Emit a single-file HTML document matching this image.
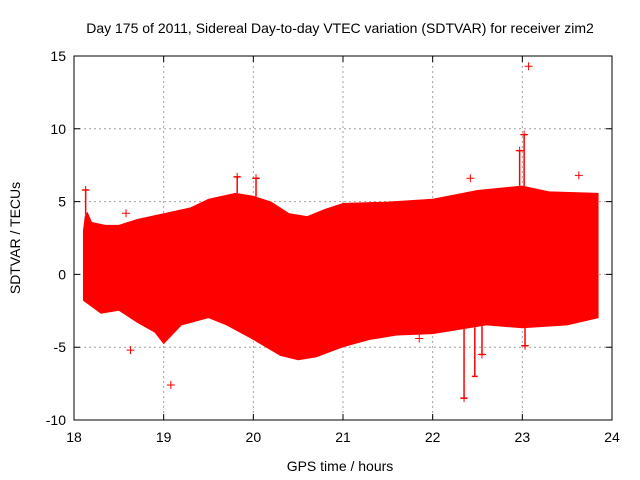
<!DOCTYPE html>
<html><head><meta charset="utf-8"><style>
body{margin:0;background:#fff;}
svg{display:block;font-family:"Liberation Sans",sans-serif;}
</style></head><body>
<svg id="chart" width="640" height="480"></svg>
<script>
const xTicks=[18,19,20,21,22,23,24];
const yTicks=[-10,-5,0,5,10,15];
const upperT=[18.1,18.12,18.15,18.2,18.35,18.5,18.7,19.0,19.3,19.5,19.8,20.0,20.2,20.4,20.6,20.8,21.0,21.5,22.0,22.5,23.0,23.3,23.85];
const upperV=[3.0,4.0,4.3,3.6,3.4,3.4,3.8,4.2,4.6,5.2,5.6,5.4,5.0,4.2,4.0,4.5,4.9,5.0,5.2,5.8,6.1,5.7,5.6];
const lowerT=[18.1,18.3,18.5,18.7,18.9,19.0,19.2,19.5,19.7,20.0,20.3,20.5,20.7,21.0,21.3,21.6,22.0,22.3,22.6,23.0,23.5,23.85];
const lowerV=[-1.8,-2.7,-2.5,-3.3,-4.0,-4.8,-3.5,-3.0,-3.5,-4.5,-5.6,-5.9,-5.7,-5.0,-4.5,-4.2,-4.1,-3.8,-3.5,-3.7,-3.5,-3.0];
const outT=[18.13,18.58,18.63,19.08,19.82,20.03,22.35,22.42,22.97,23.02,23.07,23.03,23.63,22.55,21.85];
const outV=[5.8,4.2,-5.2,-7.6,6.7,6.6,-8.5,6.6,8.5,9.6,14.3,-4.9,6.8,-5.5,-4.4];
const spikeT=[18.13,19.82,20.03,22.35,22.47,22.97,23.02,22.55,23.03];
const spikeV=[5.8,6.7,6.6,-8.5,-7.0,8.5,9.6,-5.5,-4.9];
const NS='http://www.w3.org/2000/svg';
const svg=document.getElementById('chart');
const X0=74,X1=612,Y0=420,Y1=56;
const sx=t=>X0+(t-18)/6*(X1-X0);
const sy=v=>Y0-(v+10)/25*(Y0-Y1);
function interp(T,V,t){for(let i=0;i<T.length-1;i++){if(t>=T[i]&&t<=T[i+1])return V[i]+(V[i+1]-V[i])*(t-T[i])/(T[i+1]-T[i]);}return V[V.length-1];}
function mk(tag,a,p){const e=document.createElementNS(NS,tag);for(const k in a)e.setAttribute(k,a[k]);(p||svg).appendChild(e);return e;}
xTicks.forEach((t,i)=>{if(i>0&&i<xTicks.length-1){const g=mk('line',{x1:sx(t),x2:sx(t),y1:Y1,y2:Y0,stroke:'#a0a0a0','stroke-dasharray':'2,3'});

}});
yTicks.forEach((v,i)=>{if(i>0&&i<yTicks.length-1){const g=mk('line',{x1:X0,x2:X1,y1:sy(v),y2:sy(v),stroke:'#a0a0a0','stroke-dasharray':'2,3'});

}});
let pts=upperT.map((t,i)=>sx(t)+','+sy(upperV[i]));
for(let i=lowerT.length-1;i>=0;i--)pts.push(sx(lowerT[i])+','+sy(lowerV[i]));
const band=mk('polygon',{points:pts.join(' '),fill:'#ff0000'});


spikeT.forEach((t,i)=>{const v=spikeV[i];const edge=v>0?interp(upperT,upperV,t):interp(lowerT,lowerV,t);
const x=sx(t);
const g=mk('path',{d:`M${x},${sy(edge)}V${sy(v)}M${x-3},${sy(v)}h6`,stroke:'#ff0000','stroke-width':1.5});

});
outT.forEach((t,i)=>{const x=sx(t),y=sy(outV[i]);
const g=mk('path',{d:`M${x-4},${y}H${x+4}M${x},${y-4}V${y+4}`,stroke:'#ff0000','stroke-width':1});

});
const fr=mk('rect',{x:X0,y:Y1,width:X1-X0,height:Y0-Y1,fill:'none',stroke:'#000'});


xTicks.forEach(t=>{mk('path',{d:`M${sx(t)},${Y0}v-6M${sx(t)},${Y1}v6`,stroke:'#000'});
const l=mk('text',{x:sx(t),y:Y0+22,'text-anchor':'middle','font-size':14});l.textContent=t;

});
yTicks.forEach(v=>{mk('path',{d:`M${X0},${sy(v)}h6M${X1},${sy(v)}h-6`,stroke:'#000'});
const l=mk('text',{x:X0-8,y:sy(v)+5,'text-anchor':'end','font-size':14});l.textContent=v;

});
const tt=mk('text',{x:340,y:33,'text-anchor':'middle','font-size':14});tt.textContent='Day 175 of 2011, Sidereal Day-to-day VTEC variation (SDTVAR) for receiver zim2';


const xt=mk('text',{x:340,y:471,'text-anchor':'middle','font-size':14});xt.textContent='GPS time / hours';


const yt=mk('text',{x:0,y:0,'text-anchor':'middle','font-size':14,transform:'translate(20,238) rotate(-90)'});yt.textContent='SDTVAR / TECUs';


</script>
</body></html>
